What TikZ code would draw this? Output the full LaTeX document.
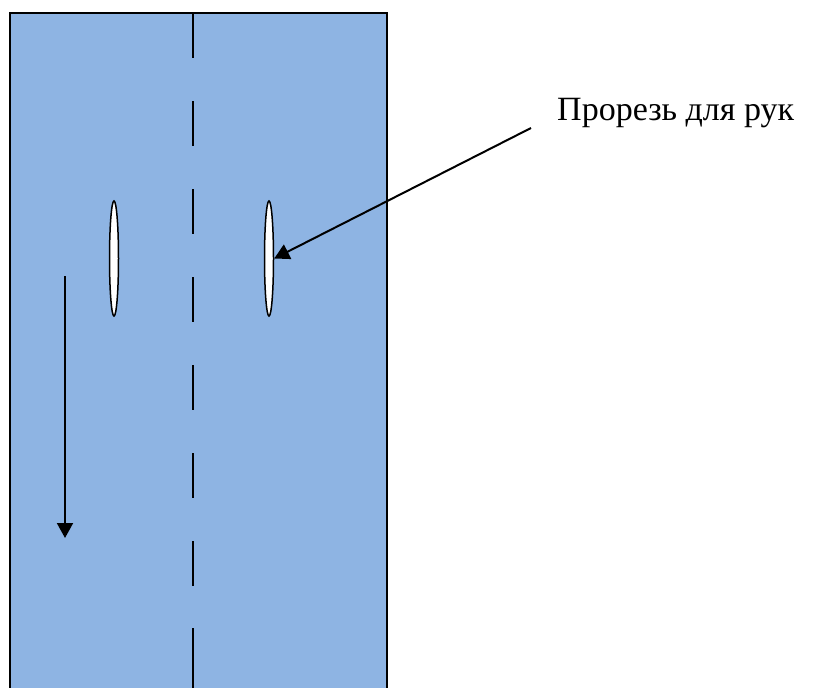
\documentclass[tikz,border=0pt]{standalone}
\usepackage{fontspec}
\setmainfont{Liberation Serif}
\usetikzlibrary{arrows.meta,shapes.geometric}
\definecolor{cloth}{HTML}{8EB4E3}
\tikzset{
  slot/.style={ellipse, draw=black, fill=white, line width=1.5pt, minimum width=9pt, minimum height=115pt, inner sep=0pt},
  pointer/.style={line width=2pt, -{Triangle[width=16pt,length=15pt]}},
  foldline/.style={line width=2pt},
  label/.style={font=\fontsize{34pt}{40pt}\selectfont, inner sep=0pt, anchor=base west}
}
\begin{document}
\begin{tikzpicture}[x=1pt,y=-1pt]
\useasboundingbox (0,0) rectangle (825,688);
\clip (0,0) rectangle (825,688);
\draw[fill=cloth, line width=1.5pt] (10,13) rectangle (387,720);
\draw[foldline, dash pattern=on 45pt off 43pt] (193,13) -- (193,600);
\draw[foldline] (193,628) -- (193,700);
\node[slot] (s1) at (114,258.5) {};
\node[slot] (s2) at (269,258.5) {};
\coordinate (d1) at (65,276);
\coordinate (d2) at (65,538);
\draw[pointer] (d1) -- (d2);
\node[label] (t) at (557,120) {Прорезь для рук};
\coordinate (p1) at (531,128);
\draw[pointer] (p1) -- (s2.east);
\end{tikzpicture}
\end{document}
